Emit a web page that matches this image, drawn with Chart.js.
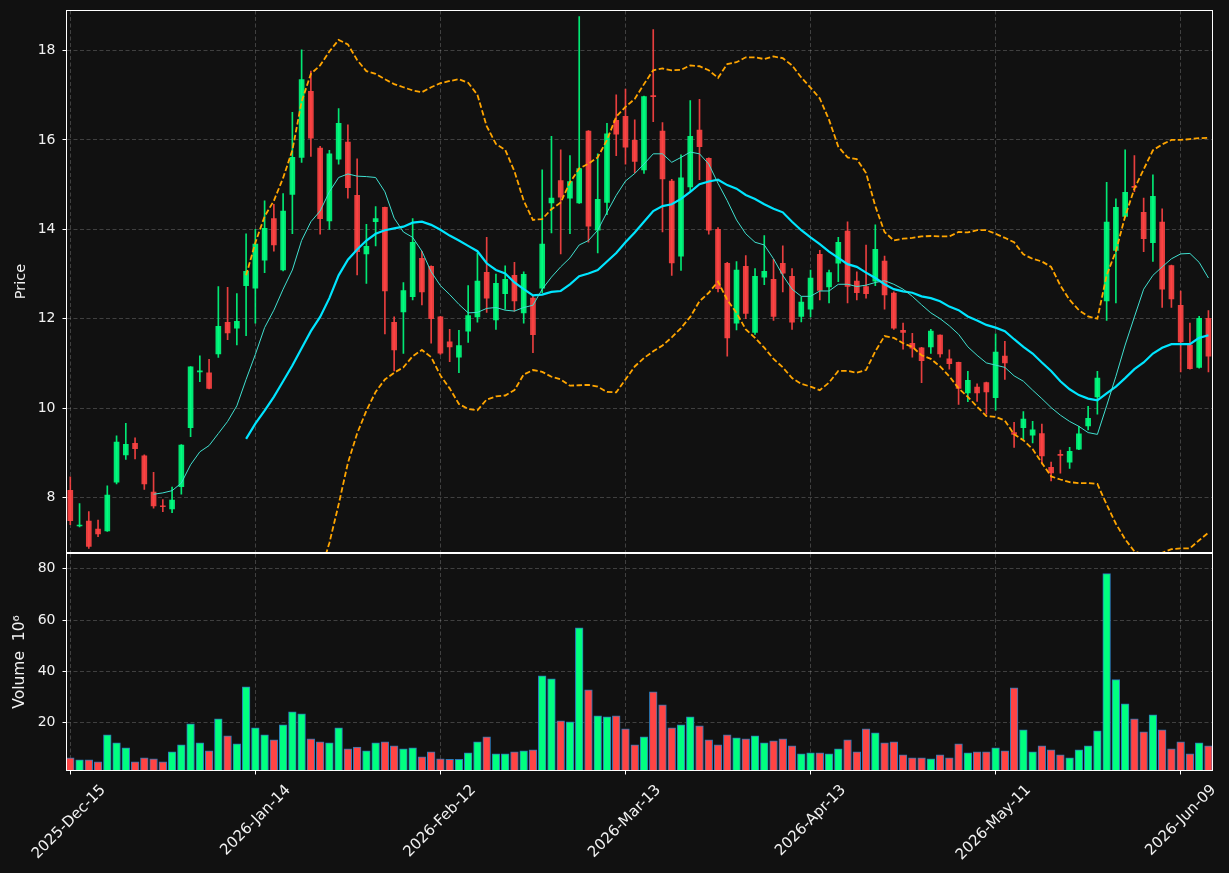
<!DOCTYPE html>
<html>
<head>
<meta charset="utf-8">
<title>Price and volume</title>
<script src="https://cdn.jsdelivr.net/npm/chart.js@4.4.1/dist/chart.umd.min.js"></script>
<style>
  html, body { margin: 0; padding: 0; background: #111111; }
  #wrap { position: relative; width: 1229px; height: 873px; }
  canvas { position: absolute; left: 0; top: 0; }
</style>
</head>
<body>
<div id="wrap">
  <canvas id="priceChart" width="1229" height="873"></canvas>
  <canvas id="volumeChart" width="1229" height="873"></canvas>
</div>
<script>
// Daily candles, 2025-Dec-15 .. 2026-Jun-12 (one entry per trading day)
var opens = [
  8.16, 7.36, 7.47, 7.29, 7.25, 8.34, 8.95, 9.21, 8.93, 8.12,
  7.81, 7.74, 8.24, 9.56, 10.81, 10.79, 11.21, 11.92, 11.79, 12.74,
  12.68, 13.31, 14.24, 13.09, 14.78, 15.61, 17.09, 15.82, 14.19, 15.57,
  15.95, 14.76, 13.45, 14.17, 14.49, 11.92, 12.15, 12.49, 13.35, 13.17,
  12.04, 11.48, 11.14, 11.72, 12.04, 13.04, 11.97, 12.56, 12.97, 12.13,
  12.46, 12.68, 14.59, 15.09, 14.70, 14.59, 16.20, 13.98, 14.60, 16.44,
  16.53, 15.99, 15.33, 16.99, 16.20, 15.08, 13.40, 14.95, 16.22, 15.59,
  14.00, 13.24, 11.90, 13.17, 11.69, 12.93, 12.88, 13.24, 12.95, 12.05,
  12.21, 13.44, 12.71, 13.24, 13.96, 12.84, 12.72, 12.84, 13.29, 12.57,
  11.74, 11.45, 11.35, 11.37, 11.63, 11.10, 11.02, 10.34, 10.47, 10.57,
  10.23, 11.16, 9.45, 9.56, 9.39, 9.43, 8.67, 8.96, 8.79, 9.08,
  9.60, 10.25, 12.40, 13.53, 14.29, 14.96, 14.38, 13.70, 14.16, 13.19,
  12.30, 11.41, 10.91, 12.01
];
var highs = [
  8.46, 7.86, 7.68, 7.49, 8.26, 9.38, 9.66, 9.33, 8.95, 8.56,
  7.95, 8.23, 9.18, 10.93, 11.17, 11.09, 12.72, 12.70, 12.56, 13.90,
  14.00, 14.64, 14.56, 14.80, 16.62, 18.02, 17.54, 15.86, 15.77, 16.70,
  16.34, 15.58, 14.11, 14.51, 14.50, 12.04, 12.81, 14.24, 13.51, 13.18,
  12.05, 11.76, 11.74, 12.74, 13.47, 13.82, 13.00, 13.18, 13.26, 13.05,
  12.50, 15.33, 16.08, 15.78, 15.65, 18.76, 16.21, 15.69, 16.37, 17.01,
  17.14, 16.45, 16.98, 18.47, 16.39, 15.12, 15.67, 16.88, 16.91, 15.60,
  14.04, 13.26, 13.28, 13.41, 13.12, 13.86, 13.33, 13.63, 13.12, 12.49,
  13.09, 13.53, 13.09, 13.82, 14.17, 13.05, 13.65, 14.10, 13.40, 12.60,
  11.90, 11.67, 11.36, 11.76, 11.64, 11.30, 11.03, 10.82, 10.54, 10.58,
  11.66, 11.49, 9.68, 9.92, 9.70, 9.64, 8.79, 9.06, 9.12, 9.59,
  10.04, 10.82, 15.05, 14.68, 15.78, 15.65, 14.70, 15.22, 14.46, 13.20,
  12.62, 11.90, 12.05, 12.18
];
var lows = [
  7.39, 7.34, 6.86, 7.12, 7.24, 8.30, 8.85, 8.86, 8.18, 7.76,
  7.68, 7.66, 8.07, 9.36, 10.59, 10.43, 11.13, 11.53, 11.41, 11.62,
  11.90, 13.03, 13.51, 13.07, 13.90, 15.50, 15.63, 13.89, 14.00, 15.46,
  14.70, 12.98, 12.79, 13.63, 11.66, 10.83, 11.22, 12.42, 12.31, 11.45,
  11.20, 11.04, 10.79, 11.47, 11.92, 12.14, 11.76, 12.21, 12.17, 11.90,
  11.24, 12.58, 13.92, 13.45, 13.90, 14.58, 13.71, 13.47, 14.33, 15.65,
  15.46, 15.26, 15.25, 16.41, 13.94, 12.97, 13.08, 14.84, 15.11, 13.89,
  12.60, 11.16, 11.75, 12.00, 11.65, 12.76, 11.96, 12.60, 11.76, 11.93,
  12.04, 12.42, 12.35, 12.83, 12.35, 12.42, 12.46, 12.74, 12.21, 11.76,
  11.32, 11.14, 10.57, 11.22, 11.14, 10.87, 10.08, 10.14, 10.15, 9.86,
  9.95, 10.64, 9.12, 9.30, 9.22, 8.75, 8.37, 8.54, 8.65, 9.07,
  9.51, 9.86, 11.96, 12.35, 14.27, 14.84, 13.50, 13.28, 12.25, 12.25,
  10.81, 10.87, 10.89, 10.81
];
var closes = [
  7.48, 7.38, 6.90, 7.18, 8.05, 9.24, 9.19, 9.09, 8.30, 7.81,
  7.79, 7.94, 9.17, 10.92, 10.83, 10.44, 11.83, 11.68, 11.94, 13.06,
  13.67, 14.02, 13.65, 14.41, 15.61, 17.35, 16.04, 14.24, 15.69, 16.37,
  14.93, 13.50, 13.62, 14.24, 12.62, 11.30, 12.63, 13.71, 12.60, 12.00,
  11.23, 11.37, 11.40, 12.07, 12.84, 12.46, 12.79, 12.88, 12.40, 12.99,
  11.64, 13.67, 14.70, 14.72, 15.07, 15.36, 14.07, 14.67, 16.14, 16.13,
  15.84, 15.52, 16.97, 16.97, 15.13, 13.25, 15.15, 16.08, 15.85, 13.98,
  12.67, 11.57, 13.09, 12.12, 12.95, 13.06, 12.05, 13.02, 11.92, 12.37,
  12.91, 12.63, 13.03, 13.71, 12.72, 12.58, 12.56, 13.55, 12.53, 11.79,
  11.69, 11.34, 11.06, 11.72, 11.21, 10.99, 10.44, 10.62, 10.34, 10.36,
  11.25, 11.01, 9.41, 9.75, 9.51, 8.93, 8.55, 8.94, 9.03, 9.42,
  9.77, 10.67, 14.16, 14.49, 14.83, 14.94, 13.79, 14.74, 12.66, 12.44,
  11.48, 10.88, 12.01, 11.16
];
// volume in millions
var volumes = [
  6.4, 5.6, 5.6, 4.8, 15.3, 12.2, 10.3, 4.8, 6.4, 6.0,
  4.8, 8.7, 11.4, 19.6, 12.2, 9.1, 21.6, 14.9, 11.8, 34.0,
  18.1, 15.3, 13.4, 19.2, 24.3, 23.5, 13.8, 12.6, 12.2, 18.1,
  9.9, 10.6, 9.1, 12.2, 12.6, 11.0, 9.9, 10.3, 6.8, 8.7,
  6.0, 5.8, 5.8, 8.3, 12.6, 14.5, 7.9, 7.9, 8.7, 9.1,
  9.5, 38.3, 37.1, 20.8, 20.4, 57.0, 32.9, 22.7, 22.3, 22.7,
  17.7, 11.4, 14.5, 32.1, 27.0, 18.1, 19.2, 22.3, 18.8, 13.4,
  11.4, 15.3, 14.2, 13.8, 14.9, 12.2, 13.0, 13.8, 11.0, 7.9,
  8.3, 8.3, 7.9, 9.9, 13.4, 8.7, 17.7, 16.1, 12.2, 12.6,
  7.5, 6.4, 6.4, 6.0, 7.5, 6.4, 11.8, 8.3, 8.7, 8.7,
  10.3, 9.1, 33.6, 17.3, 8.7, 11.0, 9.5, 7.5, 6.4, 9.5,
  11.0, 16.9, 78.1, 36.8, 27.4, 21.6, 16.5, 23.1, 17.3, 9.9,
  12.6, 7.9, 12.2, 11.0
];

// overlays (null = not drawn yet)
var ma10 = [
  null, null, null, null, null, null, null, null, null,
  8.07, 8.10, 8.15, 8.32, 8.73, 9.02, 9.16, 9.43, 9.70, 10.05,
  10.64, 11.20, 11.80, 12.19, 12.66, 13.09, 13.75, 14.17, 14.41, 14.84,
  15.16, 15.24, 15.19, 15.18, 15.16, 14.84, 14.25, 13.94, 13.82, 13.51,
  13.05, 12.74, 12.54, 12.32, 12.13, 12.14, 12.23, 12.25, 12.19, 12.17,
  12.25, 12.30, 12.66, 12.93, 13.16, 13.36, 13.65, 13.75, 13.98, 14.38,
  14.76, 15.08, 15.25, 15.46, 15.69, 15.69, 15.50, 15.61, 15.73, 15.69,
  15.46, 15.03, 14.64, 14.21, 13.90, 13.71, 13.65, 13.34, 12.97, 12.66,
  12.50, 12.50, 12.62, 12.62, 12.77, 12.77, 12.72, 12.75, 12.81, 12.85,
  12.77, 12.66, 12.50, 12.31, 12.13, 12.00, 11.84, 11.65, 11.37, 11.18,
  11.01, 10.96, 10.91, 10.72, 10.60, 10.40, 10.21, 10.01, 9.84, 9.70,
  9.59, 9.45, 9.41, 10.05, 10.71, 11.41, 12.04, 12.66, 12.97, 13.16,
  13.34, 13.45, 13.46, 13.26, 12.91
];
var ma20 = [
  null, null, null, null, null, null, null, null, null, null,
  null, null, null, null, null, null, null, null, null,
  9.31, 9.65, 9.94, 10.25, 10.60, 10.95, 11.34, 11.72, 12.04, 12.46,
  12.97, 13.32, 13.55, 13.75, 13.90, 13.98, 14.02, 14.06, 14.15, 14.17,
  14.10, 13.99, 13.86, 13.75, 13.63, 13.51, 13.24, 13.09, 13.01, 12.81,
  12.66, 12.52, 12.54, 12.60, 12.62, 12.77, 12.95, 13.01, 13.09, 13.28,
  13.47, 13.71, 13.93, 14.17, 14.41, 14.52, 14.56, 14.68, 14.84, 15.01,
  15.07, 15.11, 14.99, 14.91, 14.77, 14.68, 14.56, 14.46, 14.38, 14.17,
  13.98, 13.82, 13.67, 13.50, 13.36, 13.22, 13.16, 13.03, 12.91, 12.77,
  12.66, 12.61, 12.58, 12.50, 12.46, 12.39, 12.27, 12.19, 12.05, 11.96,
  11.86, 11.80, 11.72, 11.54, 11.37, 11.22, 11.02, 10.83, 10.60, 10.42,
  10.29, 10.21, 10.17, 10.33, 10.48, 10.67, 10.87, 11.02, 11.22, 11.35,
  11.43, 11.43, 11.43, 11.57, 11.63
];
var bbUpper = [
  null, null, null, null, null, null, null, null, null, null,
  null, null, null, null, null, null, null, null, null,
  12.97, 13.70, 14.29, 14.64, 15.15, 15.77, 16.86, 17.48, 17.67, 17.98,
  18.24, 18.14, 17.79, 17.54, 17.48, 17.36, 17.25, 17.18, 17.11, 17.07,
  17.18, 17.27, 17.32, 17.36, 17.28, 17.01, 16.31, 15.91, 15.78, 15.30,
  14.64, 14.21, 14.23, 14.45, 14.60, 15.05, 15.36, 15.47, 15.61, 16.00,
  16.52, 16.74, 16.92, 17.25, 17.56, 17.60, 17.56, 17.57, 17.67, 17.65,
  17.56, 17.39, 17.70, 17.74, 17.85, 17.85, 17.81, 17.87, 17.83, 17.67,
  17.40, 17.17, 16.93, 16.45, 15.85, 15.61, 15.57, 15.26, 14.52, 13.94,
  13.75, 13.79, 13.81, 13.84, 13.85, 13.84, 13.84, 13.94, 13.93, 13.98,
  13.98, 13.90, 13.81, 13.71, 13.44, 13.34, 13.28, 13.16, 12.74, 12.42,
  12.19, 12.05, 12.00, 12.97, 13.51, 14.29, 14.91, 15.34, 15.77, 15.90,
  16.00, 16.00, 16.02, 16.04, 16.05
];
var bbLower = [
  null, null, null, null, null, null, null, null, null, null,
  null, null, null, null, null, null, null, null, null,
  5.60, 5.60, 5.60, 5.85, 6.00, 6.10, 5.80, 5.95, 6.30, 6.98,
  7.84, 8.77, 9.43, 9.94, 10.36, 10.64, 10.79, 10.91, 11.16, 11.30,
  11.14, 10.73, 10.44, 10.09, 9.98, 9.95, 10.19, 10.26, 10.28, 10.40,
  10.75, 10.85, 10.81, 10.70, 10.64, 10.50, 10.51, 10.52, 10.48, 10.36,
  10.35, 10.64, 10.93, 11.12, 11.27, 11.40, 11.58, 11.79, 12.04, 12.39,
  12.58, 12.83, 12.42, 12.13, 11.76, 11.57, 11.35, 11.10, 10.91, 10.67,
  10.54, 10.48, 10.40, 10.57, 10.83, 10.83, 10.79, 10.85, 11.27, 11.61,
  11.57, 11.45, 11.37, 11.18, 11.10, 10.93, 10.71, 10.44, 10.25, 10.03,
  9.82, 9.80, 9.72, 9.41, 9.28, 9.08, 8.77, 8.47, 8.40, 8.34,
  8.32, 8.32, 8.30, 7.84, 7.41, 7.06, 6.79, 6.72, 6.72, 6.76,
  6.84, 6.86, 6.86, 7.04, 7.21
];

// axis ticks
var tickIndex = [0, 20, 40, 60, 80, 100, 120];
var tickLabels = ['2025-Dec-15', '2026-Jan-14', '2026-Feb-12', '2026-Mar-13', '2026-Apr-13', '2026-May-11', '2026-Jun-09'];
var priceTicks = [8, 10, 12, 14, 16, 18];
var volumeTicks = [20, 40, 60, 80];

var FONT = 'DejaVu Sans';
var TEXT = '#f2f2f2';
var GRID = 'rgba(255,255,255,0.2)';
var GRID_DASH = [4, 2.5];
var X_MIN = -0.41, X_MAX = 123.44;

function candleColor(i, alpha) {
  var up = closes[i] >= opens[i];
  return up ? 'rgba(0,255,128,' + alpha + ')' : 'rgba(255,68,68,' + alpha + ')';
}

function linePoints(arr) {
  var pts = [];
  arr.forEach(function (v, i) {
    if (v !== null) pts.push({ x: i, y: v });
  });
  return pts;
}

var bodyData = closes.map(function (c, i) { return { x: i, y: [opens[i], closes[i]] }; });
var wickData = closes.map(function (c, i) { return { x: i, y: [lows[i], highs[i]] }; });
var volData = volumes.map(function (v, i) { return { x: i, y: v }; });
var candleColors = closes.map(function (c, i) { return candleColor(i, 0.9); });
var volColors = closes.map(function (c, i) { return candleColor(i, 1); });

// white box around each panel
var framePlugin = {
  id: 'frame',
  afterDraw: function (chart) {
    var a = chart.chartArea;
    var ctx = chart.ctx;
    ctx.save();
    ctx.strokeStyle = '#ffffff';
    ctx.lineWidth = 1;
    ctx.strokeRect(a.left, a.top, a.right - a.left, a.bottom - a.top);
    ctx.restore();
  }
};

function setTicks(values) {
  return function (scale) {
    scale.ticks = values.map(function (v) { return { value: v }; });
  };
}

// fixed axis size, and no extra room for labels hanging over the plot edge
function fixSize(w, h) {
  return function (s) {
    if (w !== null) s.width = w;
    if (h !== null) s.height = h;
    s.paddingTop = 0;
    s.paddingBottom = 0;
    s.paddingLeft = 0;
    s.paddingRight = 0;
  };
}

Chart.defaults.font.family = FONT;
Chart.defaults.font.size = 14;
Chart.defaults.color = TEXT;

// price panel
new Chart(document.getElementById('priceChart'), {
  type: 'bar',
  data: {
    datasets: [
      { type: 'line', data: linePoints(ma10), borderColor: '#40e0d0', borderWidth: 1,
        pointRadius: 0, tension: 0, clip: 0, order: 1 },
      { type: 'line', data: linePoints(ma20), borderColor: '#00e5ff', borderWidth: 2.2,
        pointRadius: 0, tension: 0, clip: 0, order: 1 },
      { type: 'line', data: linePoints(bbUpper), borderColor: '#ffa500', borderWidth: 1.8,
        borderDash: [5.5, 2.5], pointRadius: 0, tension: 0, clip: 0, order: 1 },
      { type: 'line', data: linePoints(bbLower), borderColor: '#ffa500', borderWidth: 1.8,
        borderDash: [5.5, 2.5], pointRadius: 0, tension: 0, clip: 0, order: 1 },
      { data: bodyData, backgroundColor: candleColors, borderWidth: 0, barThickness: 5,
        minBarLength: 1, grouped: false, order: 2 },
      { data: wickData, backgroundColor: candleColors, borderWidth: 0, barThickness: 1,
        grouped: false, order: 3 }
    ]
  },
  options: {
    responsive: false,
    animation: false,
    devicePixelRatio: 1,
    layout: { padding: { top: 10.5, right: 16.5, bottom: 320.5, left: 0 } },
    plugins: { legend: { display: false }, tooltip: { enabled: false } },
    scales: {
      x: {
        type: 'linear', min: X_MIN, max: X_MAX, offset: false,
        afterBuildTicks: setTicks(tickIndex),
        ticks: { display: false },
        grid: { color: GRID, offset: false, drawTicks: false },
        border: { display: false, dash: GRID_DASH },
        afterFit: fixSize(null, 0)
      },
      y: {
        min: 6.766, max: 18.898,
        afterBuildTicks: setTicks(priceTicks),
        ticks: { color: TEXT, padding: 7 },
        grid: { color: GRID, tickColor: '#ffffff', tickLength: 4 },
        border: { display: false, dash: GRID_DASH },
        title: { display: true, text: 'Price', color: TEXT, font: { size: 14.5 },
                 padding: { top: 12.5, bottom: 0 } },
        afterFit: fixSize(66.5, null)
      }
    }
  },
  plugins: [framePlugin]
});

// volume panel
new Chart(document.getElementById('volumeChart'), {
  type: 'bar',
  data: {
    datasets: [{
      data: volData,
      backgroundColor: volColors,
      borderColor: '#2b7bba',
      borderWidth: 1,
      borderSkipped: false,
      barThickness: 7.7,
      grouped: false
    }]
  },
  options: {
    responsive: false,
    animation: false,
    devicePixelRatio: 1,
    layout: { padding: { top: 553.5, right: 16.5, bottom: 0, left: 0 } },
    plugins: { legend: { display: false }, tooltip: { enabled: false } },
    scales: {
      x: {
        type: 'linear', min: X_MIN, max: X_MAX, offset: false,
        afterBuildTicks: setTicks(tickIndex),
        ticks: {
          color: TEXT, autoSkip: false, minRotation: 45, maxRotation: 45,
          font: { size: 15 }, labelOffset: 33, padding: 7,
          callback: function (v) { return tickLabels[tickIndex.indexOf(v)]; }
        },
        grid: { color: GRID, offset: false, tickColor: '#ffffff', tickLength: 4 },
        border: { display: false, dash: GRID_DASH },
        afterFit: fixSize(null, 102.5)
      },
      y: {
        min: 1.43, max: 85.96,
        afterBuildTicks: setTicks(volumeTicks),
        ticks: { color: TEXT, padding: 7 },
        grid: { color: GRID, tickColor: '#ffffff', tickLength: 4 },
        border: { display: false, dash: GRID_DASH },
        title: { display: true, text: 'Volume  10\u2076', color: TEXT, font: { size: 15.5 },
                 padding: { top: 11, bottom: 0 } },
        afterFit: fixSize(66.5, null)
      }
    }
  },
  plugins: [framePlugin]
});
</script>
</body>
</html>
